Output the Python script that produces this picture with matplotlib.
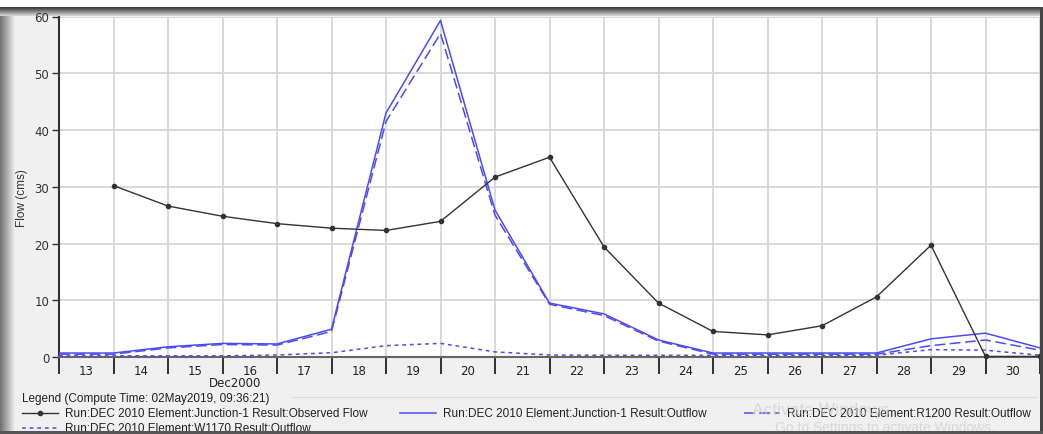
import matplotlib
matplotlib.use('Agg')
import matplotlib.pyplot as plt
from matplotlib.patches import Rectangle
from matplotlib.lines import Line2D
import numpy as np

# days of December 2000
days = [13, 14, 15, 16, 17, 18, 19, 20, 21, 22, 23, 24, 25, 26, 27, 28, 29, 30, 31]
obs_days = [14, 15, 16, 17, 18, 19, 20, 21, 22, 23, 24, 25, 26, 27, 28, 29, 30, 31]
observed = [30.2, 26.6, 24.8, 23.5, 22.7, 22.3, 23.9, 31.7, 35.2, 19.4, 9.5,
            4.5, 3.9, 5.5, 10.6, 19.7, 0.1, 0.1]
junction_out = [0.7, 0.7, 1.8, 2.4, 2.3, 4.9, 43.0, 59.3, 25.9, 9.5, 7.6,
                3.0, 0.7, 0.7, 0.7, 0.7, 3.2, 4.2, 1.6]
r1200_out = [0.5, 0.5, 1.6, 2.2, 2.1, 4.5, 41.5, 57.0, 25.0, 9.3, 7.3,
             2.8, 0.5, 0.5, 0.5, 0.5, 2.0, 3.0, 1.2]
w1170_out = [0.2, 0.2, 0.2, 0.2, 0.35, 0.75, 2.0, 2.4, 0.9, 0.35, 0.3,
             0.3, 0.3, 0.3, 0.3, 0.3, 1.3, 1.2, 0.3]

day_labels = [str(d) for d in range(13, 31)]
yticks = [0, 10, 20, 30, 40, 50, 60]

legend_title = "Legend (Compute Time: 02May2019, 09:36:21)"
names = ["Run:DEC 2010 Element:Junction-1 Result:Observed Flow",
         "Run:DEC 2010 Element:Junction-1 Result:Outflow",
         "Run:DEC 2010 Element:R1200 Result:Outflow",
         "Run:DEC 2010 Element:W1170 Result:Outflow"]

W, H = 1043, 435
BLUE = '#4b4bf2'
DARK = '#333333'

fig = plt.figure(figsize=(W / 100, H / 100), dpi=100)
fig.patch.set_facecolor('#f0f0f0')


def fx(px):
    return px / W


def fy(py):
    return 1 - py / H


def rect(x0, y0, x1, y1, color, z=0):
    fig.add_artist(Rectangle((fx(x0), fy(y1)), fx(x1) - fx(x0), fy(y0) - fy(y1),
                             transform=fig.transFigure, color=color, zorder=z, lw=0))


# window frame
rect(0, 0, W, 8, 'white')
gtop = fig.add_axes([0, fy(17), 1, fy(8) - fy(17)])
gtop.imshow(np.linspace(0.2, 0.85, 20)[:, None], cmap='gray', aspect='auto', vmin=0, vmax=1)
gtop.axis('off')
gleft = fig.add_axes([0, fy(435), fx(15), fy(17) - fy(435)])
gleft.imshow(np.linspace(0.45, 0.93, 20)[None, :], cmap='gray', aspect='auto', vmin=0, vmax=1)
gleft.axis('off')
rect(1040, 8, W, H, '#444444', 3)
rect(0, 432, W, H, '#555555', 3)

ax = fig.add_axes([fx(59), fy(358), fx(1040) - fx(59), fy(17.5) - fy(358)])
ax.set_facecolor('white')
ax.set_xlim(13, 31)
ax.set_ylim(0, 60)

ax.plot(days, w1170_out, color=BLUE, lw=1.1, dashes=(2.5, 2.5), zorder=3)
ax.plot(days, r1200_out, color=BLUE, lw=1.1, dashes=(7, 3), zorder=4)
ax.plot(days, junction_out, color=BLUE, lw=1.1, zorder=5)
ax.plot(obs_days, observed, color=DARK, lw=1.0, marker='o', ms=3, zorder=6, clip_on=False)

ax.set_xticks(range(13, 32))
ax.set_xticks([d + 0.5 for d in range(13, 31)], minor=True)
ax.set_xticklabels([])
ax.set_xticklabels(day_labels, minor=True)
ax.tick_params(axis='x', which='major', length=12, width=1.3, color='#222222', direction='out')
ax.tick_params(axis='x', which='minor', length=0, pad=5, labelsize=8.5, labelcolor='#222222')
ax.set_yticks(yticks)
ax.tick_params(axis='y', length=5, width=1, color='#333333', labelsize=8.5,
               labelcolor='#333333', pad=2)
ax.grid(True, which='major', color='#d3d3d3', lw=1.2)
ax.set_axisbelow(True)
for s in ['top', 'right']:
    ax.spines[s].set_visible(False)
ax.spines['left'].set_color('#333333')
ax.spines['left'].set_linewidth(1.5)
ax.spines['bottom'].set_color('#666666')
ax.spines['bottom'].set_linewidth(1.5)

fig.text(fx(22), fy(198), "Flow (cms)", rotation=90, ha='center', va='center',
         fontsize=8.5, color='#333333', family='Liberation Sans')
fig.text(fx(235), fy(384), "Dec2000", ha='center', va='center', fontsize=8.5,
         color='#222222')

# legend
fig.text(fx(22), fy(399), legend_title, ha='left', va='center', fontsize=8.5,
         color='#222222', family='Liberation Sans')
fig.add_artist(Line2D([fx(292), fx(1036)], [fy(398), fy(398)], color='#dddddd',
                      lw=0.8, transform=fig.transFigure))
entries = [
    (22, 414, dict(color=DARK, lw=1.0, marker='o', ms=3, markevery=[1]), names[0]),
    (400, 414, dict(color=BLUE, lw=1.1), names[1]),
    (744, 414, dict(color=BLUE, lw=1.1, dashes=(7, 3)), names[2]),
    (22, 429, dict(color=BLUE, lw=1.1, dashes=(2.5, 2.5)), names[3]),
]
for x0, y0, style, label in entries:
    fig.add_artist(Line2D([fx(x0), fx(x0 + 18), fx(x0 + 36)], [fy(y0)] * 3,
                          transform=fig.transFigure, **style))
    fig.text(fx(x0 + 43), fy(y0), label, ha='left', va='center', fontsize=8.5,
             color='#222222', family='Liberation Sans', zorder=2)

# screen watermark over the legend
fig.text(fx(752), fy(411), "Activate Windows", ha='left', va='center', fontsize=12.5,
         color='#cfcfcf', alpha=0.7, family='Liberation Sans', zorder=4)
fig.text(fx(775), fy(428), "Go to Settings to activate Windows.", ha='left', va='center',
         fontsize=10, color='#cfcfcf', alpha=0.7, family='Liberation Sans', zorder=2)

fig.savefig('out.png', dpi=100, facecolor=fig.get_facecolor())
